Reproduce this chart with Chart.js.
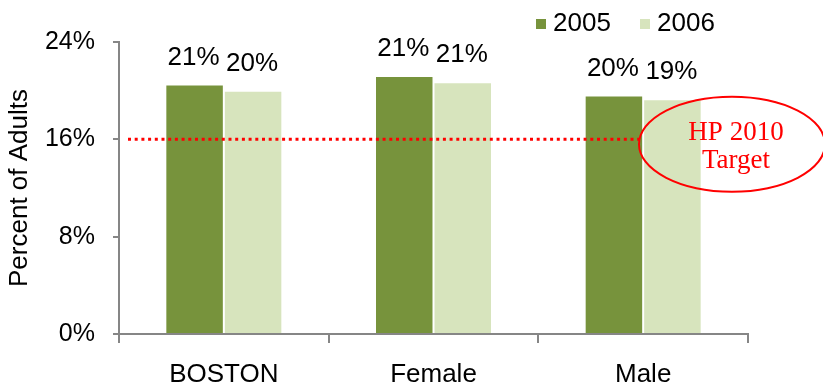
<!DOCTYPE html>
<html>
<head>
<meta charset="utf-8">
<script src="https://cdn.jsdelivr.net/npm/chart.js@4"></script>
<style>
  html, body { margin: 0; padding: 0; background: #ffffff; overflow: hidden; }
  #wrap { width: 823px; height: 387px; position: relative; }
</style>
</head>
<body>
<div id="wrap"><canvas id="chart"></canvas></div>
<script>
// 차트 데이터
const categories = ['BOSTON', 'Female', 'Male'];
const seriesNames = ['2005', '2006'];
const values2005 = [20.5, 21.2, 19.6];
const values2006 = [20.0, 20.7, 19.3];
const yTicks = [0, 8, 16, 24];
const targetValue = 16;
const targetText = ['HP 2010', 'Target'];

const FONT = "'Liberation Sans', Arial, sans-serif";
const DARK = '#77933C';
const LIGHT = '#D7E4BD';
const AXIS = '#868686';

// 막대 위 값 라벨
const valueLabels = {
    id: 'valueLabels',
    afterDatasetsDraw(chart) {
        const ctx = chart.ctx;
        ctx.save();
        ctx.font = '26px ' + FONT;
        ctx.fillStyle = '#000000';
        ctx.textAlign = 'center';
        ctx.textBaseline = 'alphabetic';
        chart.data.datasets.forEach((ds, i) => {
            chart.getDatasetMeta(i).data.forEach((bar, j) => {
                ctx.fillText(Math.round(ds.data[j]) + '%', bar.x - 1, bar.y - 20);
            });
        });
        ctx.restore();
    }
};

// 목표선 + 타원 표시
const targetMarker = {
    id: 'targetMarker',
    afterDatasetsDraw(chart) {
        const ctx = chart.ctx;
        const area = chart.chartArea;
        const y = chart.scales.y.getPixelForValue(targetValue);
        const cx = area.right - 16;
        const cy = chart.scales.y.getPixelForValue(15.6);
        const rx = 93, ry = 47.5;
        ctx.save();
        ctx.strokeStyle = '#FF0000';
        ctx.lineWidth = 3;
        ctx.setLineDash([3, 3.7]);
        ctx.beginPath();
        ctx.moveTo(area.left + 9, y);
        ctx.lineTo(cx - rx, y);
        ctx.stroke();
        ctx.setLineDash([]);
        ctx.lineWidth = 2;
        ctx.beginPath();
        ctx.ellipse(cx, cy, rx, ry, 0, 0, Math.PI * 2);
        ctx.stroke();
        ctx.fillStyle = '#FF0000';
        ctx.font = "27px 'Liberation Serif', 'DejaVu Serif', serif";
        ctx.textAlign = 'center';
        ctx.textBaseline = 'alphabetic';
        ctx.fillText(targetText[0], cx + 4, cy - 4);
        ctx.fillText(targetText[1], cx + 4, cy + 24);
        ctx.restore();
    }
};

// 범례
const legendBoxes = {
    id: 'legendBoxes',
    afterDraw(chart) {
        const ctx = chart.ctx;
        const items = [
            { x: 536, color: DARK, text: seriesNames[0] },
            { x: 640, color: LIGHT, text: seriesNames[1] }
        ];
        ctx.save();
        ctx.font = '26px ' + FONT;
        ctx.textBaseline = 'middle';
        items.forEach(it => {
            ctx.fillStyle = it.color;
            ctx.fillRect(it.x, 19, 10, 10);
            ctx.fillStyle = '#000000';
            ctx.fillText(it.text, it.x + 17, 24);
        });
        ctx.restore();
    }
};

new Chart(document.getElementById('chart'), {
    type: 'bar',
    data: {
        labels: categories,
        datasets: [
            {
                label: seriesNames[0],
                data: values2005,
                backgroundColor: DARK,
                borderColor: '#ffffff',
                borderWidth: 1,
                categoryPercentage: 0.558,
                barPercentage: 1.0
            },
            {
                label: seriesNames[1],
                data: values2006,
                backgroundColor: LIGHT,
                borderColor: '#ffffff',
                borderWidth: 1,
                categoryPercentage: 0.558,
                barPercentage: 1.0
            }
        ]
    },
    options: {
        responsive: true,
        maintainAspectRatio: false,
        animation: false,
        layout: {
            padding: { top: 42, right: 75, bottom: 0, left: 0 }
        },
        plugins: {
            legend: { display: false },
            title: { display: false },
            tooltip: { enabled: false }
        },
        scales: {
            x: {
                afterFit(scale) { scale.height = 53; },
                grid: {
                    display: true,
                    drawOnChartArea: false,
                    color: AXIS,
                    tickLength: 9,
                    lineWidth: 2
                },
                border: { color: AXIS, width: 2 },
                ticks: {
                    color: '#000000',
                    font: { family: FONT, size: 26 },
                    padding: 16
                }
            },
            y: {
                min: 0,
                max: 24,
                afterBuildTicks(scale) {
                    scale.ticks = yTicks.map(v => ({ value: v }));
                },
                afterFit(scale) { scale.width = 119; },
                grid: {
                    display: true,
                    drawOnChartArea: false,
                    color: AXIS,
                    tickLength: 6,
                    lineWidth: 2
                },
                border: { color: AXIS, width: 2 },
                ticks: {
                    color: '#000000',
                    font: { family: FONT, size: 25 },
                    padding: 18,
                    callback: v => v + '%'
                },
                title: {
                    display: true,
                    text: 'Percent of Adults',
                    color: '#000000',
                    font: { family: FONT, size: 26 },
                    padding: { top: 4, bottom: 0 }
                }
            }
        }
    },
    plugins: [valueLabels, targetMarker, legendBoxes]
});
</script>
</body>
</html>
